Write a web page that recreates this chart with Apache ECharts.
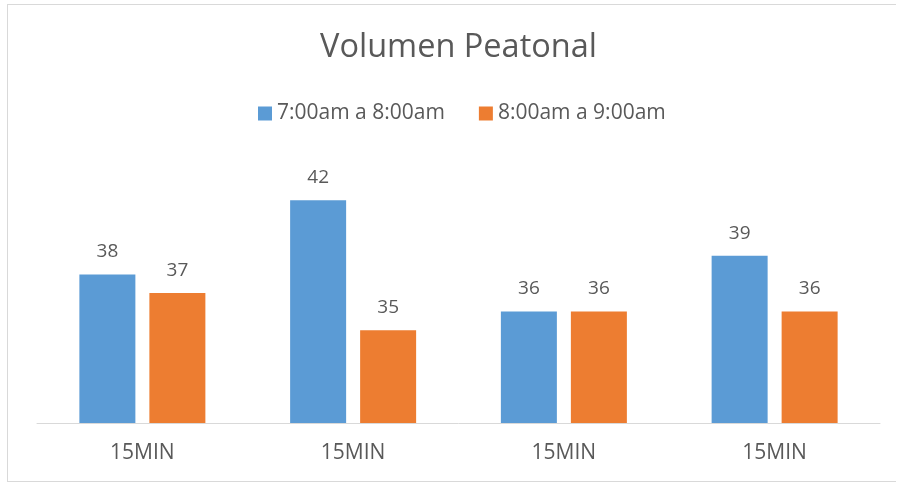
<!DOCTYPE html>
<html>
<head>
<meta charset="utf-8">
<script src="https://cdn.jsdelivr.net/npm/echarts@6/dist/echarts.min.js"></script>
<style>
  html, body { margin: 0; padding: 0; background: #fff; }
  #frame { position: absolute; left: 7px; top: 4px; width: 889px; height: 478px; border: 1px solid #d9d9d9; border-right: none; box-sizing: border-box; }
  #chart { position: absolute; left: 0; top: 0; width: 897px; height: 484px; }
</style>
</head>
<body>
<div id="frame"></div>
<div id="chart"></div>
<script>
// Pedestrian counts per 15-minute interval, two one-hour periods
const categories = ['15MIN', '15MIN', '15MIN', '15MIN'];
const seriesNames = ['7:00am a 8:00am', '8:00am a 9:00am'];
const firstHour = [38, 42, 36, 39];
const secondHour = [37, 35, 36, 36];

const FONT = '"Open Sans", sans-serif';
const TEXT = '#595959';

const chart = echarts.init(document.getElementById('chart'), null, { renderer: 'canvas' });

const barLabel = {
  show: true,
  position: 'top',
  distance: 13,
  color: TEXT,
  fontFamily: FONT,
  fontSize: 19
};

chart.setOption({
  animation: false,
  title: {
    text: 'Volumen Peatonal',
    left: 320,
    top: 31,
    padding: 0,
    textStyle: { color: TEXT, fontFamily: FONT, fontSize: 32.5, fontWeight: 'normal' }
  },
  legend: {
    top: 103,
    left: 258,
    padding: 0,
    itemWidth: 14,
    itemHeight: 14,
    itemGap: 34,
    icon: 'rect',
    textStyle: { color: TEXT, fontFamily: FONT, fontSize: 21 },
    data: seriesNames
  },
  grid: { left: 37, right: 17, top: 163, bottom: 61, containLabel: false },
  xAxis: {
    type: 'category',
    data: categories,
    axisLine: { lineStyle: { color: '#d9d9d9', width: 1 } },
    axisTick: { show: false },
    axisLabel: { color: TEXT, fontFamily: FONT, fontSize: 21, margin: 20 }
  },
  yAxis: {
    type: 'value',
    min: 30,
    max: 44,
    interval: 2,
    show: false,
    splitLine: { show: false }
  },
  series: [
    {
      name: seriesNames[0],
      type: 'bar',
      data: firstHour,
      barWidth: 56,
      barGap: '25%',
      itemStyle: { color: '#5b9bd5' },
      label: barLabel
    },
    {
      name: seriesNames[1],
      type: 'bar',
      data: secondHour,
      barWidth: 56,
      itemStyle: { color: '#ed7d31' },
      label: barLabel
    }
  ]
});
</script>
</body>
</html>
